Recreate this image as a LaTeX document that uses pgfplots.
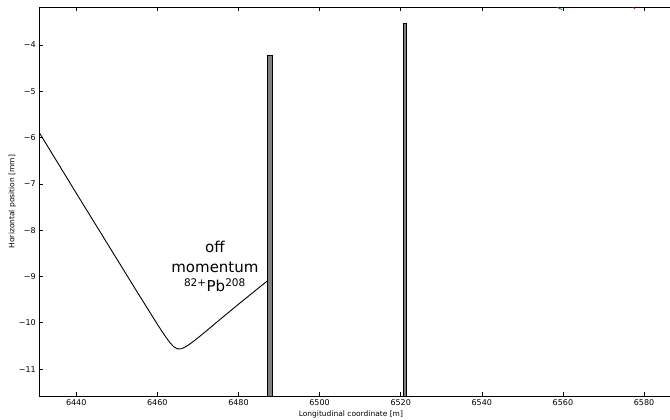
\documentclass[border=0pt]{standalone}
\usepackage{fontspec}
\setmainfont{DejaVu Sans}
\usepackage{pgfplots}
\pgfplotsset{compat=1.18}

\begin{document}
\begin{tikzpicture}
\begin{axis}[
    scale only axis,
    width=630.7pt, height=388.7pt,
    xmin=6430.9, xmax=6586.4,
    ymin=-11.58, ymax=-3.19,
    axis x line=box, axis y line=left,
    x axis line style={-}, y axis line style={-},
    axis line style={line width=0.8pt, black},
    xtick={6440,6460,6480,6500,6520,6540,6560,6580},
    xticklabels={6440,6460,6480,6500,6520,6540,6560,6580},
    ytick={-11,-10,-9,-8,-7,-6,-5,-4},
    yticklabels={−11,−10,−9,−8,−7,−6,−5,−4},
    tick style={black, line width=0.6pt},
    major tick length=4pt,
    tick align=inside,
    ticklabel style={font=\fontsize{8}{9}\selectfont},
    xlabel={Longitudinal coordinate [m]},
    ylabel={Horizontal position [mm]},
    every axis x label/.style={at={(axis description cs:0.494,0)}, anchor=center, yshift=-18pt, font=\fontsize{7.5}{9}\selectfont},
    every axis y label/.style={at={([xshift=-27pt]axis description cs:0,0.5)}, rotate=90, anchor=center, font=\fontsize{7.5}{9}\selectfont},
]
% beam trajectory
\addplot[black, line width=0.9pt] coordinates {
    (6431,-5.91) (6440,-7.20) (6450,-8.62) (6455,-9.33) (6458,-9.75)
    (6460,-10.03) (6461,-10.165) (6462,-10.296) (6463,-10.416) (6464,-10.514)
    (6465,-10.565) (6466,-10.559) (6467,-10.517) (6468,-10.459) (6469,-10.394)
    (6470,-10.325) (6472,-10.182) (6475,-9.961) (6480,-9.60) (6487.2,-9.09)
};
% collimator jaws
\addplot[draw=black, fill=gray, line width=0.7pt] coordinates {
    (6487.2,-12) (6487.2,-4.22) (6488.3,-4.22) (6488.3,-12)} -- cycle;
\addplot[draw=black, fill=gray, line width=0.7pt] coordinates {
    (6520.6,-12) (6520.6,-3.53) (6521.4,-3.53) (6521.4,-12)} -- cycle;
% bits of other curves at the top edge
\addplot[black, line width=1.2pt] coordinates {(6488.3,-3.19) (6520.6,-3.19)};
\addplot[teal, line width=0.8pt] coordinates {(6558.5,-3.19) (6559.8,-3.24)};
\addplot[magenta, line width=0.8pt] coordinates {(6577.3,-3.19) (6577.8,-3.23)};
\node[align=center, font=\fontsize{15}{19.5}\selectfont, inner sep=0pt] at (axis cs:6474.2,-8.79)
    {off\\momentum\\\textsuperscript{82+}Pb\textsuperscript{208}};
\coordinate (bl) at (rel axis cs:0,0);
\coordinate (tr) at (rel axis cs:1,1);
\end{axis}
\pgfresetboundingbox
\path ([shift={(-39.3pt,-24pt)}]bl) rectangle ([shift={(0pt,7.3pt)}]tr);
\end{tikzpicture}
\end{document}
